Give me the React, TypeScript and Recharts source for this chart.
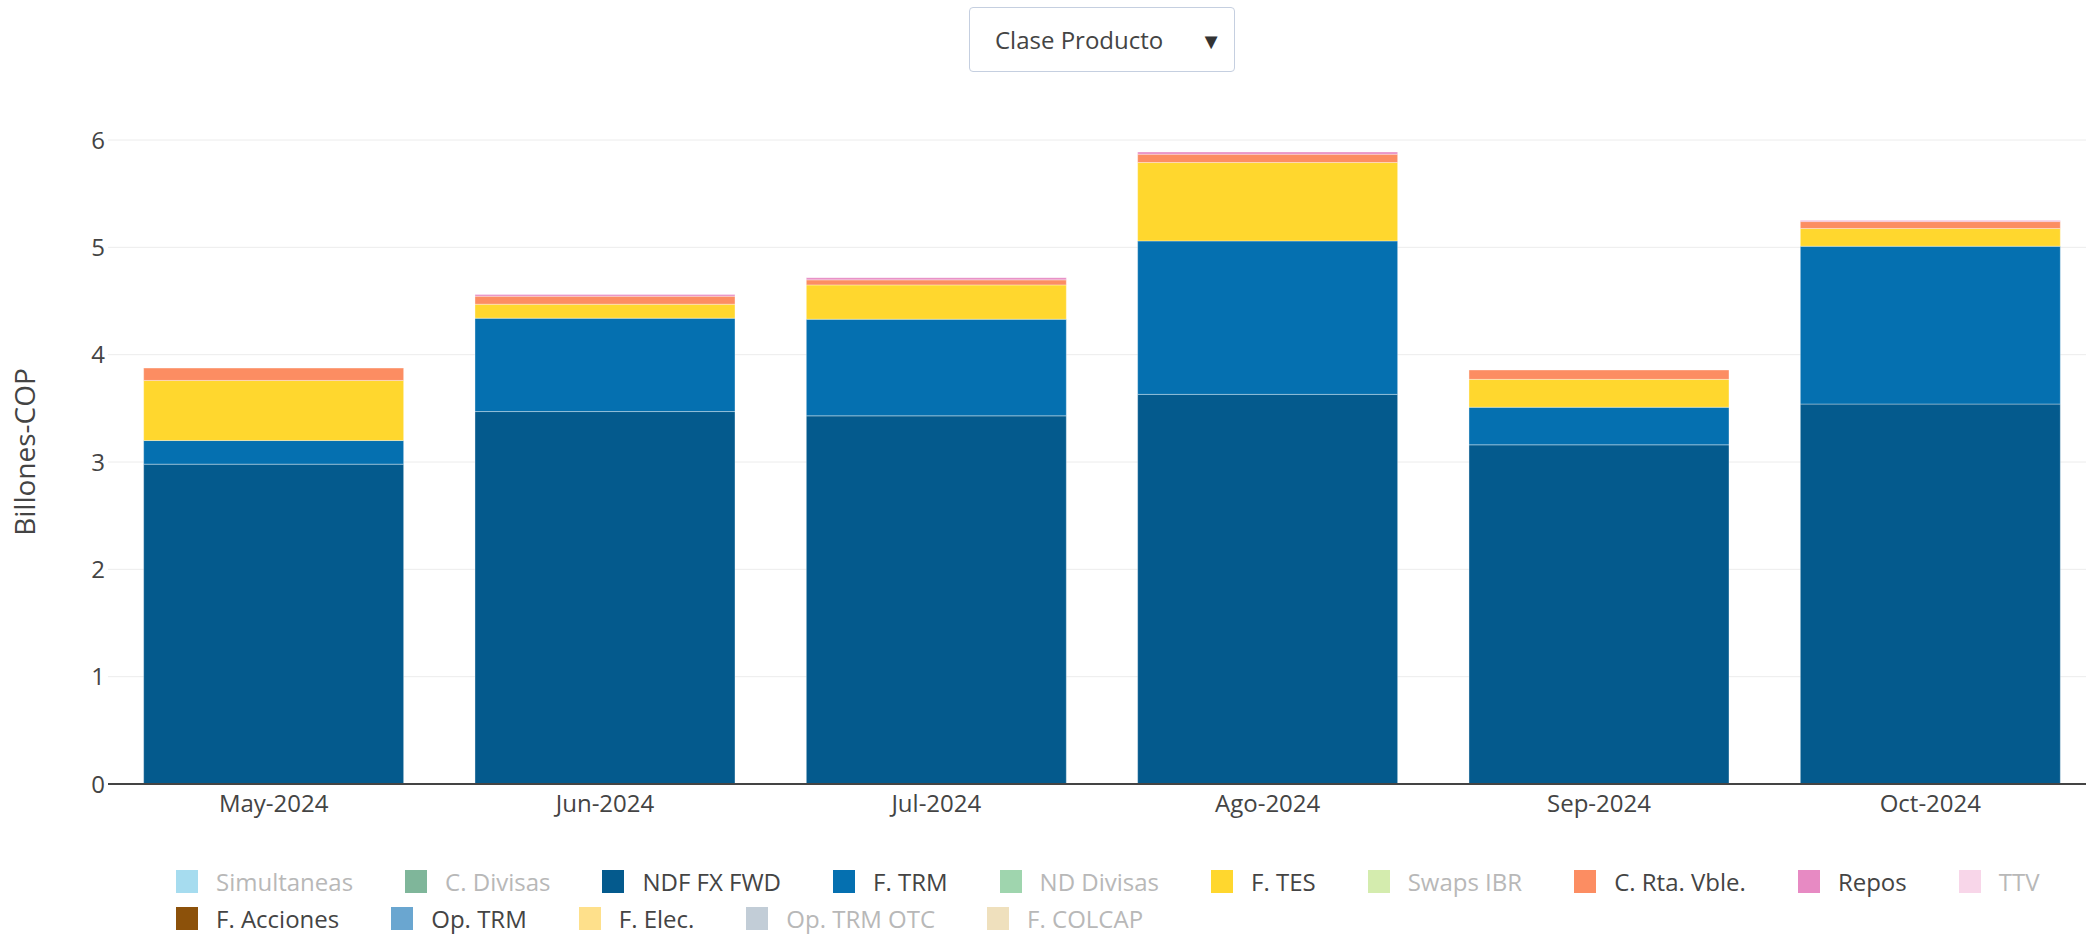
import { BarChart, Bar, XAxis, YAxis, CartesianGrid } from "recharts";

const months = ["May-2024", "Jun-2024", "Jul-2024", "Ago-2024", "Sep-2024", "Oct-2024"];

// Billones-COP
const ndfFxFwd = [2.98, 3.47, 3.43, 3.63, 3.16, 3.54];
const fTrm = [0.22, 0.87, 0.9, 1.43, 0.35, 1.47];
const fTes = [0.56, 0.13, 0.32, 0.73, 0.26, 0.165];
const cRtaVble = [0.115, 0.075, 0.047, 0.078, 0.087, 0.065];
const repos = [0, 0.015, 0.02, 0.02, 0, 0.01];

const yTicks = [0, 1, 2, 3, 4, 5, 6];

const legendRow1 = [
  { name: "Simultaneas", color: "#a6dcef", active: false },
  { name: "C. Divisas", color: "#7fb69a", active: false },
  { name: "NDF FX FWD", color: "#045a8d", active: true },
  { name: "F. TRM", color: "#0570b0", active: true },
  { name: "ND Divisas", color: "#9fd5ae", active: false },
  { name: "F. TES", color: "#ffd72e", active: true },
  { name: "Swaps IBR", color: "#d4ecae", active: false },
  { name: "C. Rta. Vble.", color: "#fc8d62", active: true },
  { name: "Repos", color: "#e78ac3", active: true },
  { name: "TTV", color: "#f8d6e9", active: false },
];
const legendRow2 = [
  { name: "F. Acciones", color: "#8c510a", active: true },
  { name: "Op. TRM", color: "#6aa6d0", active: true },
  { name: "F. Elec.", color: "#fee08b", active: true },
  { name: "Op. TRM OTC", color: "#c2cdd7", active: false },
  { name: "F. COLCAP", color: "#efe0bd", active: false },
];

const data = months.map((m, i) => ({
  month: m,
  ndf: ndfFxFwd[i],
  trm: fTrm[i],
  tes: fTes[i],
  rta: cRtaVble[i],
  repos: repos[i],
}));

const FONT = '"Open Sans", "Noto Sans", sans-serif';
const segStroke = "rgba(255,255,255,0.35)";

function LegendRow({ items }: { items: typeof legendRow1 }) {
  return (
    <div style={{ display: "flex", alignItems: "center", height: 37, whiteSpace: "nowrap" }}>
      {items.map((it) => (
        <div
          key={it.name}
          style={{ display: "flex", alignItems: "center", marginRight: 52, flexShrink: 0 }}
        >
          <span
            style={{
              width: 22,
              height: 23,
              background: it.color,
              display: "inline-block",
              marginRight: 18,
              flexShrink: 0,
            }}
          />
          <span style={{ fontSize: 24, color: it.active ? "#444" : "#b8b8b8" }}>{it.name}</span>
        </div>
      ))}
    </div>
  );
}

export default function App() {
  return (
    <div
      style={{
        position: "absolute",
        left: 0,
        top: 0,
        width: 2086,
        height: 938,
        overflow: "hidden",
        background: "#fff",
        fontFamily: FONT,
      }}
    >
      <div
        style={{
          position: "absolute",
          left: 969,
          top: 7,
          width: 266,
          height: 65,
          border: "1px solid #c5cfe0",
          borderRadius: 4,
          display: "flex",
          alignItems: "center",
          justifyContent: "space-between",
          padding: "0 12px 0 25px",
          boxSizing: "border-box",
          color: "#444",
          fontSize: 24,
        }}
      >
        <span>Clase Producto</span>
        <span style={{ fontSize: 22, color: "#333" }}>▼</span>
      </div>

      <div
        style={{
          position: "absolute",
          left: 24,
          top: 452,
          transform: "translate(-50%, -50%) rotate(-90deg)",
          fontSize: 28,
          color: "#444",
          whiteSpace: "nowrap",
        }}
      >
        Billones-COP
      </div>

      <div style={{ position: "absolute", left: 0, top: 0 }}>
        <BarChart
          width={2096}
          height={830}
          data={data}
          margin={{ top: 140, right: 0, bottom: 0, left: 0 }}
          barCategoryGap="10.76%"
        >
          <CartesianGrid vertical={false} stroke="#ececec" />
          <XAxis
            dataKey="month"
            tickLine={false}
            tickSize={0}
            tickMargin={11}
            height={46}
            axisLine={{ stroke: "#444", strokeWidth: 2 }}
            tick={{ fill: "#444", fontSize: 24, fontFamily: FONT }}
          />
          <YAxis
            domain={[0, 6]}
            ticks={yTicks}
            width={108}
            axisLine={false}
            tickLine={false}
            tickSize={0}
            tickMargin={3}
            tick={{ fill: "#444", fontSize: 24, fontFamily: FONT }}
          />
          <Bar dataKey="ndf" stackId="a" fill="#045a8d" stroke={segStroke} isAnimationActive={false} />
          <Bar dataKey="trm" stackId="a" fill="#0570b0" stroke={segStroke} isAnimationActive={false} />
          <Bar dataKey="tes" stackId="a" fill="#ffd72e" stroke={segStroke} isAnimationActive={false} />
          <Bar dataKey="rta" stackId="a" fill="#fc8d62" stroke={segStroke} isAnimationActive={false} />
          <Bar dataKey="repos" stackId="a" fill="#e78ac3" stroke={segStroke} isAnimationActive={false} />
        </BarChart>
      </div>

      <div style={{ position: "absolute", left: 176, top: 863, width: 1900 }}>
        <LegendRow items={legendRow1} />
        <LegendRow items={legendRow2} />
      </div>
    </div>
  );
}
